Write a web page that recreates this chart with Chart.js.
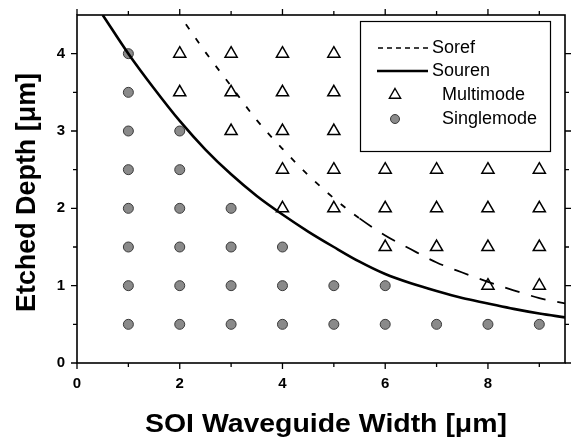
<!DOCTYPE html>
<html>
<head>
<meta charset="utf-8">
<script src="https://cdn.jsdelivr.net/npm/chart.js@4.4.1/dist/chart.umd.min.js"></script>
<style>
  html, body { margin: 0; padding: 0; background: #fff; }
  #c { display: block; }
</style>
</head>
<body>
<canvas id="c" width="574" height="439"></canvas>
<script>
// ---- data ----
const sorefWidth  = [2.12, 2.5, 3.0, 3.5, 4.0, 4.5, 5.0, 5.5, 6.0, 6.5, 7.0, 7.5, 8.0, 8.5, 9.0, 9.5];
const sorefDepth  = [4.38, 4.02, 3.58, 3.14, 2.77, 2.43, 2.13, 1.87, 1.65, 1.47, 1.30, 1.17, 1.05, 0.94, 0.84, 0.77];

const sourenWidth = [0.5, 1.0, 1.5, 2.0, 2.5, 3.0, 3.5, 4.0, 4.5, 5.0, 5.5, 6.0, 6.5, 7.0, 7.5, 8.0, 8.5, 9.0, 9.5];
const sourenDepth = [4.5, 4.0, 3.55, 3.13, 2.76, 2.44, 2.16, 1.92, 1.70, 1.50, 1.31, 1.15, 1.03, 0.93, 0.84, 0.77, 0.70, 0.64, 0.59];

const multimodeWidth = [2, 2, 3, 3, 3, 4, 4, 4, 4, 4, 5, 5, 5, 5, 5, 6, 6, 6, 7, 7, 7, 8, 8, 8, 8, 9, 9, 9, 9];
const multimodeDepth = [3.5, 4, 3, 3.5, 4, 2, 2.5, 3, 3.5, 4, 2, 2.5, 3, 3.5, 4, 1.5, 2, 2.5, 1.5, 2, 2.5, 1, 1.5, 2, 2.5, 1, 1.5, 2, 2.5];

const singlemodeWidth = [1, 1, 1, 1, 1, 1, 1, 1, 2, 2, 2, 2, 2, 2, 3, 3, 3, 3, 4, 4, 4, 5, 5, 6, 6, 7, 8, 9];
const singlemodeDepth = [0.5, 1, 1.5, 2, 2.5, 3, 3.5, 4, 0.5, 1, 1.5, 2, 2.5, 3, 0.5, 1, 1.5, 2, 0.5, 1, 1.5, 0.5, 1, 0.5, 1, 0.5, 0.5, 0.5];

const xTickValues = [0, 2, 4, 6, 8];
const xMinorTicks = [1, 3, 5, 7, 9];
const yTickValues = [0, 1, 2, 3, 4];
const yMinorTicks = [0.5, 1.5, 2.5, 3.5];

const seriesNames = ['Soref', 'Souren', 'Multimode', 'Singlemode'];
const xTitle = 'SOI Waveguide Width [\u03bcm]';
const yTitle = 'Etched Depth [\u03bcm]';

const zip = (xs, ys) => xs.map((x, i) => ({ x: x, y: ys[i] }));

const FONT = '"Liberation Sans", Arial, Helvetica, sans-serif';
const CIRCLE_FILL = '#8a8a8a';
const CIRCLE_EDGE = '#3a3a3a';

// frame + outward ticks on all four sides
const framePlugin = {
  id: 'frame',
  afterDatasetsDraw(chart) {
    const { ctx, chartArea: a } = chart;
    const xs = chart.scales.x, ys = chart.scales.y;
    ctx.save();
    ctx.strokeStyle = '#000';
    ctx.lineWidth = 1.6;
    ctx.strokeRect(a.left, a.top, a.right - a.left, a.bottom - a.top);
    ctx.lineWidth = 1.3;
    const tx = (v, len) => {
      const p = xs.getPixelForValue(v);
      ctx.beginPath();
      ctx.moveTo(p, a.bottom); ctx.lineTo(p, a.bottom + len);
      ctx.moveTo(p, a.top); ctx.lineTo(p, a.top - len);
      ctx.stroke();
    };
    const ty = (v, len) => {
      const p = ys.getPixelForValue(v);
      ctx.beginPath();
      ctx.moveTo(a.left, p); ctx.lineTo(a.left - len, p);
      ctx.moveTo(a.right, p); ctx.lineTo(a.right + len, p);
      ctx.stroke();
    };
    xTickValues.forEach(v => tx(v, 6));
    xMinorTicks.forEach(v => tx(v, 4));
    yTickValues.forEach(v => ty(v, 6));
    yMinorTicks.forEach(v => ty(v, 4));
    ctx.restore();
  }
};

// legend box inside the plot (drawn over the data, like the original)
const boxLegendPlugin = {
  id: 'boxLegend',
  afterDatasetsDraw(chart) {
    const { ctx } = chart;
    const bx = 360.5, by = 21.5, bw = 190, bh = 130;
    ctx.save();
    ctx.fillStyle = '#fff';
    ctx.fillRect(bx, by, bw, bh);
    ctx.strokeStyle = '#000';
    ctx.lineWidth = 1.2;
    ctx.strokeRect(bx, by, bw, bh);
    const rows = [48, 71, 95, 119];
    ctx.font = '18px ' + FONT;
    ctx.fillStyle = '#000';
    ctx.textBaseline = 'middle';
    ctx.textAlign = 'left';
    // Soref
    ctx.lineWidth = 1.6;
    ctx.setLineDash([5, 4]);
    ctx.beginPath(); ctx.moveTo(378, rows[0]); ctx.lineTo(430, rows[0]); ctx.stroke();
    ctx.setLineDash([]);
    ctx.fillText(seriesNames[0], 432, rows[0]);
    // Souren
    ctx.lineWidth = 2.5;
    ctx.beginPath(); ctx.moveTo(377, rows[1]); ctx.lineTo(428, rows[1]); ctx.stroke();
    ctx.fillText(seriesNames[1], 432, rows[1]);
    // Multimode
    const r = 6.5, cx = 395, cy = rows[2];
    ctx.lineWidth = 1.4;
    ctx.beginPath();
    ctx.moveTo(cx, cy - r);
    ctx.lineTo(cx + r * 0.866, cy + r / 2);
    ctx.lineTo(cx - r * 0.866, cy + r / 2);
    ctx.closePath();
    ctx.stroke();
    ctx.fillText(seriesNames[2], 442, rows[2]);
    // Singlemode
    ctx.beginPath(); ctx.arc(395, rows[3], 4.5, 0, Math.PI * 2);
    ctx.fillStyle = CIRCLE_FILL; ctx.fill();
    ctx.strokeStyle = CIRCLE_EDGE; ctx.lineWidth = 1; ctx.stroke();
    ctx.fillStyle = '#000';
    ctx.fillText(seriesNames[3], 442, rows[3]);
    ctx.restore();
  }
};

// axis titles (bold, positioned like the original)
const titlesPlugin = {
  id: 'axisTitles',
  afterDraw(chart) {
    const { ctx } = chart;
    ctx.save();
    ctx.fillStyle = '#000';
    ctx.textAlign = 'center';
    ctx.textBaseline = 'alphabetic';
    // x title
    ctx.font = 'bold 25px ' + FONT;
    let w = ctx.measureText(xTitle).width;
    ctx.save();
    ctx.translate(326, 432);
    ctx.scale(362 / w, 1);
    ctx.fillText(xTitle, 0, 0);
    ctx.restore();
    // y title
    ctx.font = 'bold 27px ' + FONT;
    w = ctx.measureText(yTitle).width;
    ctx.save();
    ctx.translate(35, 192.5);
    ctx.rotate(-Math.PI / 2);
    ctx.scale(239 / w, 1);
    ctx.fillText(yTitle, 0, 0);
    ctx.restore();
    ctx.restore();
  }
};

new Chart(document.getElementById('c'), {
  type: 'scatter',
  data: {
    datasets: [
      {
        label: seriesNames[0],
        type: 'line',
        data: zip(sorefWidth, sorefDepth),
        borderColor: '#000',
        borderWidth: 1.8,
        pointRadius: 0,
        fill: false,
        cubicInterpolationMode: 'monotone',
        segment: {
          borderDash: c => (c.p0.parsed.x < 5.5 ? [6, 11] : [15, 12])
        },
        borderDash: [6, 11]
      },
      {
        label: seriesNames[1],
        type: 'line',
        data: zip(sourenWidth, sourenDepth),
        borderColor: '#000',
        borderWidth: 2.6,
        pointRadius: 0,
        fill: false,
        cubicInterpolationMode: 'monotone'
      },
      {
        label: seriesNames[2],
        data: zip(multimodeWidth, multimodeDepth),
        pointStyle: 'triangle',
        pointRadius: 7,
        pointBorderWidth: 1.5,
        pointBackgroundColor: 'rgba(255,255,255,0)',
        pointBorderColor: '#000'
      },
      {
        label: seriesNames[3],
        data: zip(singlemodeWidth, singlemodeDepth),
        pointStyle: 'circle',
        pointRadius: 5,
        pointBorderWidth: 1,
        pointBackgroundColor: CIRCLE_FILL,
        pointBorderColor: CIRCLE_EDGE
      }
    ]
  },
  options: {
    responsive: false,
    animation: false,
    devicePixelRatio: 1,
    events: [],
    layout: { padding: { top: 13, right: 9, left: 0, bottom: 0 } },
    plugins: {
      legend: { display: false },
      tooltip: { enabled: false },
      title: { display: false }
    },
    scales: {
      x: {
        type: 'linear',
        position: 'bottom',
        min: 0,
        max: 9.5,
        afterBuildTicks: s => { s.ticks = xTickValues.map(v => ({ value: v })); },
        afterFit: s => { s.height = 76; },
        grid: { display: true, drawOnChartArea: false, drawTicks: true, tickLength: 6, color: 'rgba(0,0,0,0)' },
        border: { display: false },
        ticks: {
          color: '#000',
          padding: 6,
          maxRotation: 0,
          autoSkip: false,
          font: { family: FONT, weight: 'bold', size: 15 }
        }
      },
      y: {
        type: 'linear',
        position: 'left',
        min: 0,
        max: 4.5,
        afterBuildTicks: s => { s.ticks = yTickValues.map(v => ({ value: v })); },
        afterFit: s => { s.width = 77; },
        grid: { display: true, drawOnChartArea: false, drawTicks: true, tickLength: 6, color: 'rgba(0,0,0,0)' },
        border: { display: false },
        ticks: {
          color: '#000',
          padding: 6,
          autoSkip: false,
          font: { family: FONT, weight: 'bold', size: 15 }
        }
      }
    }
  },
  plugins: [framePlugin, boxLegendPlugin, titlesPlugin]
});
</script>
</body>
</html>
